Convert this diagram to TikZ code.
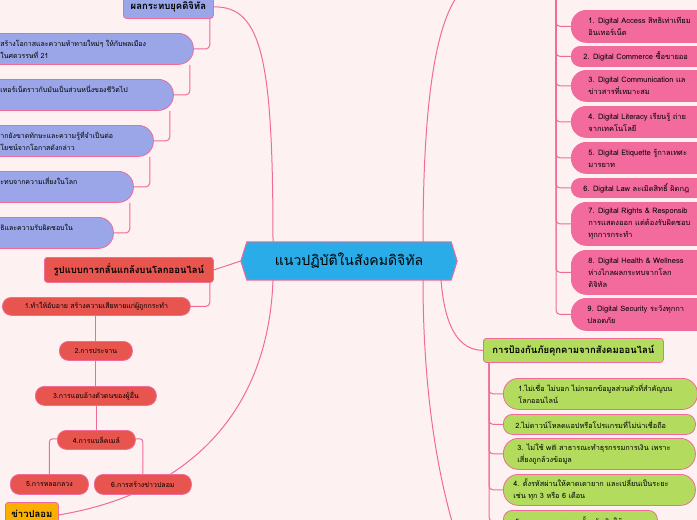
\documentclass[tikz,border=0pt]{standalone}
\usepackage{fontspec}
\setmainfont[Script=Thai]{Loma}
\definecolor{bg}{HTML}{FDF2F1}
\definecolor{lnk}{HTML}{F06A9A}
\definecolor{lav}{HTML}{9AA6E8}
\definecolor{coral}{HTML}{E8554E}
\definecolor{hpink}{HTML}{F26B9C}
\definecolor{lime}{HTML}{B3DC5E}
\definecolor{sky}{HTML}{29ACE8}
\definecolor{gold}{HTML}{F9B000}
\pgfdeclarelayer{back}
\pgfsetlayers{back,main}
\newcommand\pbox[8]{\node[#2,anchor=north west,minimum width=#5pt,minimum height=#6pt,inner xsep=#7pt,inner ysep=0pt] (#1) at (#3,#4) {\parbox{\dimexpr #5pt - #7pt*2\relax}{\raggedright #8}};}
\tikzset{
 link/.style={draw=lnk,line width=1pt},
 lavbox/.style={draw=lnk,fill=lav,line width=0.8pt,rounded corners=15pt,font=\fontsize{7}{12}\selectfont},
 pinkbox/.style={draw=lnk,fill=hpink,line width=0.8pt,rounded corners=15pt,font=\fontsize{7.5}{12}\selectfont},
 pinksm/.style={pinkbox,rounded corners=9pt},
 limebox/.style={draw=lnk,fill=lime,line width=0.8pt,rounded corners=15pt,font=\fontsize{7.3}{12}\selectfont},
 limesm/.style={limebox,rounded corners=9pt},
 redbox/.style={draw=lnk,fill=coral,line width=0.8pt,rounded corners=9pt,anchor=north west,inner sep=0pt,font=\fontsize{7}{9}\selectfont},
 head/.style={draw=lnk,line width=0.8pt,rounded corners=3pt,anchor=north west,inner sep=0pt,font=\bfseries\fontsize{9.5}{11}\selectfont},
}
\begin{document}
\begin{tikzpicture}[x=1pt,y=-1pt]
\begin{pgfonlayer}{back}
\fill[bg] (0,0) rectangle (697,520);
\end{pgfonlayer}
\useasboundingbox (0,0) rectangle (697,520);
% center
\node[minimum width=216pt,minimum height=38pt,inner sep=0pt] (c) at (349,261) {};
\filldraw[draw=lnk,fill=sky,line width=1pt] (c.west) -- ([xshift=6pt]c.north west) -- ([xshift=-6pt]c.north east) -- (c.east) -- ([xshift=-6pt]c.south east) -- ([xshift=6pt]c.south west) -- cycle;
\node[font=\fontsize{14}{16}\selectfont] (ct) at (c) {แนวปฏิบัติในสังคมดิจิทัล};
% top-left header
\node[head,fill=lav,minimum width=90pt,minimum height=23pt] (fx) at (123,-5) {\raisebox{-3pt}{ผลกระทบยุคดิจิทัล}};
\pbox{l1}{lavbox}{-20}{33}{213}{31}{20}{สร้างโอกาสและความท้าทายใหม่ๆ ให้กับพลเมือง\\ในศตวรรษที่ 21}
\pbox{l2}{lavbox}{-20}{79}{193}{31}{20}{เทอร์เน็ตราวกับมันเป็นส่วนหนึ่งของชีวิตไป\\\mbox{}}
\pbox{l3}{lavbox}{-20}{125}{173}{31}{20}{ากยังขาดทักษะและความรู้ที่จำเป็นต่อ\\โยชน์จากโอกาสดังกล่าว}
\pbox{l4}{lavbox}{-20}{171}{153}{31}{20}{ะทบจากความเสี่ยงในโลก\\\mbox{}}
\pbox{l5}{lavbox}{-20}{217}{133}{31}{20}{ธิและความรับผิดชอบใน\\\mbox{}}
% left red branch
\node[head,fill=coral,minimum width=169pt,minimum height=25pt] (r0) at (44,257) {รูปแบบการกลั่นแกล้งบนโลกออนไลน์};
\node[redbox,minimum width=188pt,minimum height=18pt] (r1) at (2,297) {1.ทำให้อับอาย สร้างความเสียหายแก่ผู้ถูกกระทำ};
\node[redbox,minimum width=73pt,minimum height=19pt] (r2) at (59,341) {2.การประจาน};
\node[redbox,minimum width=121pt,minimum height=19pt] (r3) at (35,386) {3.การแอบอ้างตัวตนของผู้อื่น};
\node[redbox,minimum width=78pt,minimum height=19pt] (r4) at (57,430) {4.การแบล็คเมล์};
\node[redbox,minimum width=78pt,minimum height=20pt] (r5) at (10,474) {5.การหลอกลวง};
\node[redbox,minimum width=97pt,minimum height=20pt] (r6) at (94,474) {6.การสร้างข่าวปลอม};
\node[head,fill=gold,minimum width=53pt,minimum height=25pt] (fk) at (5,502) {\raisebox{2pt}{ข่าวปลอม}};
% right pink branch
\coordinate (rt) at (556,-5);
\pbox{p1}{pinkbox}{571}{10}{160}{32}{17}{1. Digital Access สิทธิเท่าเทียม\\อินเทอร์เน็ต}
\pbox{p2}{pinksm}{571}{46}{160}{20}{12}{2. Digital Commerce ซื้อขายออ}
\pbox{p3}{pinkbox}{571}{70}{160}{31}{17}{3. Digital Communication แล\\ข่าวสารที่เหมาะสม}
\pbox{p4}{pinkbox}{571}{106}{160}{31}{17}{4. Digital Literacy เรียนรู้ ถ่าย\\จากเทคโนโลยี}
\pbox{p5}{pinkbox}{571}{142}{160}{31}{17}{5. Digital Etiquette รู้กาลเทศะ\\มารยาท}
\pbox{p6}{pinksm}{571}{178}{160}{19}{12}{6. Digital Law ละเมิดสิทธิ์ ผิดกฎ}
\pbox{p7}{pinkbox}{571}{202}{160}{43}{17}{7. Digital Rights \& Responsib\\การแสดงออก แต่ต้องรับผิดชอบ\\ทุกการกระทำ}
\pbox{p8}{pinkbox}{571}{250}{160}{44}{17}{8. Digital Health \& Wellness\\ห่างไกลผลกระทบจากโลก\\ดิจิทัล}
\pbox{p9}{pinkbox}{571}{298}{160}{32}{16}{9. Digital Security ระวังทุกกา\\ปลอดภัย}
% green branch
\node[head,fill=lime,minimum width=180pt,minimum height=24pt] (g0) at (483,338) {การป้องกันภัยคุกคามจากสังคมออนไลน์};
\coordinate (gt) at (489,362);
\pbox{g1}{limebox}{503}{378}{194}{31}{15}{1.ไม่เชื่อ ไม่บอก ไม่กรอกข้อมูลส่วนตัวที่สำคัญบน\\โลกออนไลน์}
\pbox{g2}{limesm}{503}{414}{192}{20}{12}{2.ไม่ดาวน์โหลดแอปหรือโปรแกรมที่ไม่น่าเชื่อถือ}
\pbox{g3}{limebox}{503}{438}{192}{31}{14}{3. ไม่ใช้ wifi สาธารณะทำธุรกรรมการเงิน เพราะ\\เสี่ยงถูกล้วงข้อมูล}
\pbox{g4}{limebox}{503}{474}{192}{31}{10}{\mbox{4. ตั้งรหัสผ่านให้คาดเดายาก และเปลี่ยนเป็นระยะ}\\เช่น ทุก 3 หรือ 6 เดือน}
\pbox{g5}{limesm}{503}{510}{154}{22}{12}{5. ออกจากระบบทุกครั้งหลังเลิกใช้งาน}
% connectors behind
\begin{pgfonlayer}{back}
\draw[link,rounded corners=4pt] ([xshift=-4pt]fx.south east) |- (l1.east);
\draw[link,rounded corners=4pt] ([xshift=-4pt]l1.south east) |- (l2.east);
\draw[link,rounded corners=4pt] ([xshift=-4pt]l2.south east) |- (l3.east);
\draw[link,rounded corners=4pt] ([xshift=-4pt]l3.south east) |- (l4.east);
\draw[link,rounded corners=4pt] ([xshift=-4pt]l4.south east) |- (l5.east);
\draw[link,rounded corners=4pt] ([xshift=-4pt]r0.south east) |- (r1.east);
\draw[link] (r2.north) -- (r2.north |- r1.south);
\draw[link] (r3.north) -- (r3.north |- r2.south);
\draw[link] (r4.north) -- (r4.north |- r3.south);
\coordinate (r4b) at ([yshift=11pt]r4.south);
\draw[link,rounded corners=3pt] (r4.south) -- (r4b) -| (r5.north);
\draw[link,rounded corners=3pt] (r4.south) -- (r4b) -| (r6.north);
\foreach \p in {p1,p2,p3,p4,p5,p6,p7,p8,p9}{\draw[link,rounded corners=4pt] (rt) |- (\p.west);}
\foreach \g in {g1,g2,g3,g4,g5}{\draw[link,rounded corners=4pt] (gt) |- (\g.west);}
\coordinate (ctl) at (273,242);
\coordinate (cbl) at (273,280);
\coordinate (ctr) at (423,242);
\coordinate (cbr) at (423,280);
\coordinate (cbr2) at (441,280);
\coordinate (topr) at (458,-5);
\coordinate (botr) at (453,525);
\draw[link] (c.west) .. controls (228,266) .. (r0.east);
\draw[link] (fx.east) .. controls (262,6) and (273,60) .. (ctl);
\draw[link] (cbl) .. controls (268,420) and (180,495) .. (fk.east);
\draw[link] (ctr) .. controls (423,80) and (440,20) .. (topr);
\draw[link] (cbr) .. controls (423,400) and (440,480) .. (botr);
\draw[link] (cbr2) .. controls (445,330) and (460,350) .. (g0.west);
\end{pgfonlayer}
\end{tikzpicture}
\end{document}
